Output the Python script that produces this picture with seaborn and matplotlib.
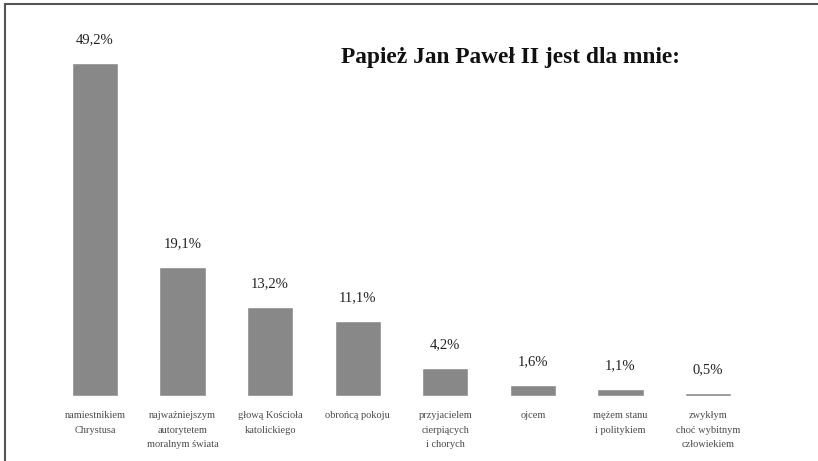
import matplotlib
matplotlib.use("Agg")
import pandas as pd
import seaborn as sns
import matplotlib.pyplot as plt
from matplotlib.patches import Rectangle

categories = ["namiestnikiem\nChrystusa", "najważniejszym\nautorytetem\nmoralnym świata",
              "głową Kościoła\nkatolickiego", "obrońcą pokoju",
              "przyjacielem\ncierpiących\ni chorych", "ojcem",
              "mężem stanu\ni politykiem", "zwykłym\nchoć wybitnym\nczłowiekiem"]
values = [49.2, 19.1, 13.2, 11.1, 4.2, 1.6, 1.1, 0.5]
value_labels = ["49,2%", "19,1%", "13,2%", "11,1%", "4,2%", "1,6%", "1,1%", "0,5%"]

df = pd.DataFrame({"cat": categories, "val": values})

sns.set_style("white")
plt.rcParams["font.family"] = ["Liberation Serif", "DejaVu Serif"]

fig = plt.figure(figsize=(8.18, 4.61), dpi=100)
ax = fig.add_axes([51.2 / 818, (461 - 396) / 461, 700.6 / 818, 352 / 461])

sns.barplot(data=df, x="cat", y="val", color="#888888", saturation=1, width=0.53, ax=ax)

for i, (v, lab) in enumerate(zip(values, value_labels)):
    ax.annotate(lab, (i, v), xytext=(0, 12), textcoords="offset points",
                ha="center", va="bottom", fontsize=10.5, color="#222222")

ax.set_ylim(0, 52)
ax.set_xlabel("")
ax.set_ylabel("")
ax.set_yticks([])
ax.tick_params(axis="x", length=0, pad=11, labelsize=7.5, labelcolor="#4a4a4a")
for lab in ax.get_xticklabels():
    lab.set_linespacing(1.75)
    lab.set_va("top")
sns.despine(ax=ax, left=True, bottom=True)

fig.text(511 / 818, 1 - 58 / 461, "Papież Jan Paweł II jest dla mnie:",
         ha="center", va="center", fontsize=16.8, fontweight="bold", color="#111111")

# frame at the top and left edge
fig.add_artist(Rectangle((5 / 818, -0.1), 1.2, 1 - 4 / 461 + 0.1, transform=fig.transFigure,
                         fill=False, edgecolor="#555555", linewidth=1.5))

fig.savefig("out.png", dpi=100)
